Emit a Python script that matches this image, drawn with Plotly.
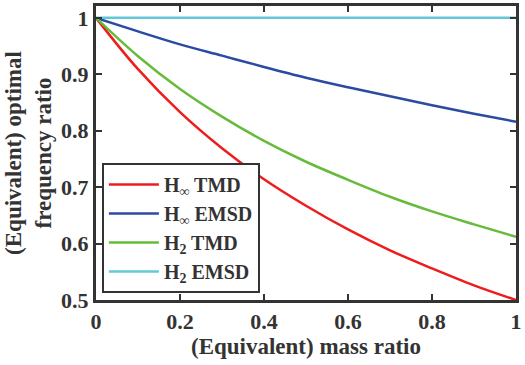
import plotly.graph_objects as go

mu = [0, 0.1, 0.2, 0.3, 0.4, 0.5, 0.6, 0.7, 0.8, 0.9, 1.0]
hinf_tmd = [1.0, 0.909, 0.833, 0.769, 0.714, 0.667, 0.625, 0.588, 0.556, 0.526, 0.5]
hinf_emsd = [1.0, 0.976, 0.953, 0.933, 0.913, 0.894, 0.877, 0.861, 0.845, 0.830, 0.816]
h2_tmd = [1.0, 0.932, 0.874, 0.825, 0.782, 0.745, 0.713, 0.683, 0.657, 0.634, 0.612]
h2_emsd = [1.0] * 11

names = ["H<sub>∞</sub> TMD", "H<sub>∞</sub> EMSD", "H<sub>2</sub> TMD", "H<sub>2</sub> EMSD"]
colors = ["#ee1c1c", "#2b4ba3", "#66bb3a", "#63c8d8"]
series = [hinf_tmd, hinf_emsd, h2_tmd, h2_emsd]

fig = go.Figure()
for n, c, s in zip(names, colors, series):
    fig.add_trace(go.Scatter(x=mu, y=s, mode="lines", name=n,
                             line=dict(color=c, width=2.5, shape="spline")))

fam = "Liberation Serif, Times New Roman, serif"
def f(size):
    return dict(family=fam, size=size, color="#333333", weight="bold")

axis = dict(showline=True, linewidth=3, linecolor="#333333", mirror="ticks",
            ticks="inside", ticklen=6, tickwidth=2, tickcolor="#333333",
            showgrid=False, zeroline=False, tickfont=f(22))
fig.update_layout(
    width=525, height=365,
    margin=dict(l=96, r=3, t=4, b=65),
    plot_bgcolor="white", paper_bgcolor="white",
    font=f(22),
    xaxis=dict(range=[0, 1], tickvals=[0, 0.2, 0.4, 0.6, 0.8, 1],
               ticktext=["0", "0.2", "0.4", "0.6", "0.8", "1"],
               title=dict(text="(Equivalent) mass ratio", standoff=1, font=f(23)),
               **axis),
    yaxis=dict(range=[0.5, 1.021], tickvals=[0.5, 0.6, 0.7, 0.8, 0.9, 1],
               ticktext=["0.5", "0.6", "0.7", "0.8", "0.9", "1"],
               title=dict(text="(Equivalent) optimal<br>frequency ratio", standoff=4, font=f(23)),
               **axis),
    legend=dict(x=0.014, y=0.024, xanchor="left", yanchor="bottom",
                bgcolor="white", bordercolor="#333333", borderwidth=2,
                font=f(20), tracegroupgap=0, itemwidth=50),
)
fig.write_html("out.html")
